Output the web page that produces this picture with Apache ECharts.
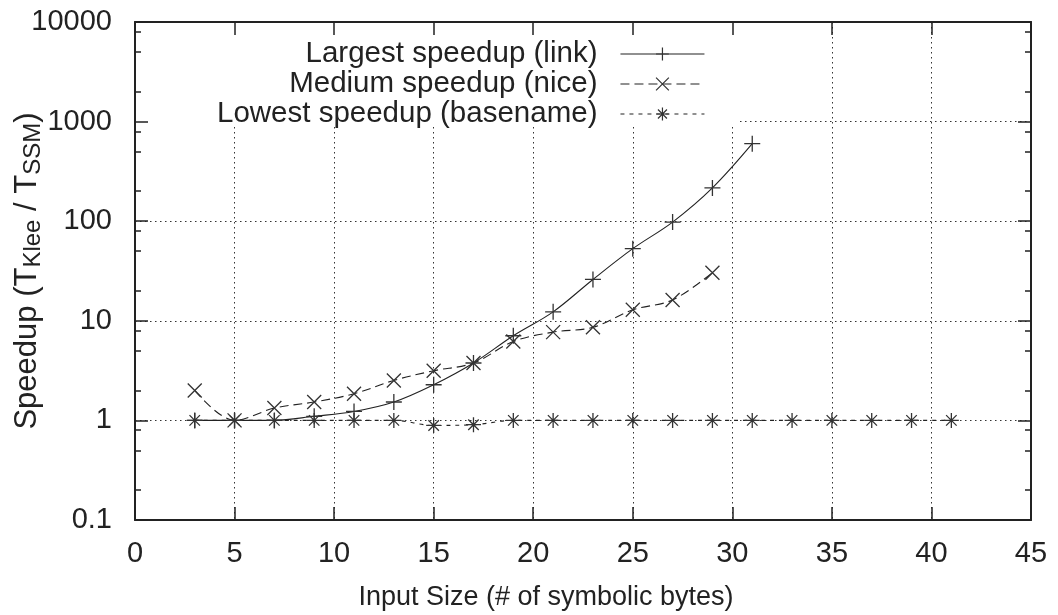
<!DOCTYPE html>
<html>
<head>
<meta charset="utf-8">
<script src="https://cdn.jsdelivr.net/npm/echarts@6/dist/echarts.min.js"></script>
<style>
html,body{margin:0;padding:0;background:#fff;}
#chart{width:1058px;height:615px;}
</style>
</head>
<body>
<div id="chart"></div>
<script>
// ---- data ----
const xLink = [3,5,7,9,11,13,15,17,19,21,23,25,27,29,31];
const yLink = [1,1,1,1.1,1.23,1.53,2.28,3.77,7.08,12.3,26,53,98,216,600];

const xNice = [3,5,7,9,11,13,15,17,19,21,23,25,27,29];
const yNice = [2.0,1,1.33,1.53,1.85,2.52,3.15,3.77,6.2,7.7,8.6,12.9,16.2,30.4];

const xBase = [3,5,7,9,11,13,15,17,19,21,23,25,27,29,31,33,35,37,39,41];
const yBase = [1,1,1,1,1,1,0.89,0.905,1,1,1,1,1,1,1,1,1,1,1,1];

const seriesNames = ['Largest speedup (link)','Medium speedup (nice)','Lowest speedup (basename)'];
const xTickLabels = ['0','5','10','15','20','25','30','35','40','45'];
const yTickValues = [0.1,1,10,100,1000,10000];
const yTickLabels = ['0.1','1','10','100','1000','10000'];
const yMinorTicks = [0.2,0.5,0.8,2,5,8,20,50,80,200,500,800,2000,5000,8000];

const FONT = 'Liberation Sans';
const INK = '#222';

const symPlus = 'path://M0,5L10,5M5,0L5,10';
const symCross = 'path://M0,0L10,10M10,0L0,10';
const symStar = 'path://M0,5L10,5M5,0L5,10M1.5,1.5L8.5,8.5M8.5,1.5L1.5,8.5';

function pairs(xs, ys){ return xs.map((x,i)=>[x, ys[i]]); }
function yLabel(v){
  let best = 0, bd = Infinity;
  yTickValues.forEach((t,i)=>{ const d = Math.abs(Math.log10(v) - Math.log10(t)); if (d < bd){bd=d;best=i;} });
  return yTickLabels[best];
}

const chart = echarts.init(document.getElementById('chart'), null, {renderer:'canvas'});

const gridLine = {show:true, lineStyle:{color:'#333', width:1, type:[1.5,3.5]}};
const axisLineStyle = {show:true, onZero:false, lineStyle:{color:INK, width:2}};
const noLine = {show:false, onZero:false};

const option = {
  animation:false,
  backgroundColor:'#fff',
  grid:{left:135, right:27, top:22, bottom:95, containLabel:false, outerBoundsMode:'none'},
  legend:{
    data:seriesNames,
    orient:'vertical',
    align:'right',
    right:353, top:39,
    padding:0,
    itemGap:0,
    itemWidth:84,
    itemHeight:16,
    selectedMode:false,
    textStyle:{fontFamily:FONT, fontSize:29.5, color:INK, lineHeight:30, padding:[0,18,0,0]},
    itemStyle:{borderWidth:1.2},
    lineStyle:{width:1.1},
    z:6
  },
  graphic:[{
    type:'rect', z:1,
    shape:{x:136, y:23, width:602, height:104},
    style:{fill:'#fff'}
  }],
  xAxis:[
    {type:'value', min:0, max:45, interval:5, position:'bottom', z:5,
     axisLine:axisLineStyle,
     axisTick:{show:true, inside:true, length:13, lineStyle:{color:INK, width:1.5}},
     axisLabel:{show:true, margin:18, fontFamily:FONT, fontSize:29, color:INK, lineHeight:32,
       formatter:(v)=>xTickLabels[Math.round(v/5)]},
     splitLine:{show:false},
     name:'Input Size (# of symbolic bytes)', nameLocation:'middle', nameGap:62, nameMoveOverlap:false,
     nameTextStyle:{fontFamily:FONT, fontSize:27, color:INK, lineHeight:32, padding:[0,74,0,0]}
    },
    {type:'value', min:0, max:45, interval:5, position:'top', z:5,
     axisLine:axisLineStyle,
     axisTick:{show:true, inside:true, length:13, lineStyle:{color:INK, width:1.5}},
     axisLabel:{show:false}, splitLine:{show:false}
    },
    {type:'value', min:0, max:45, interval:5, position:'bottom', z:0,
     axisLine:noLine, axisTick:{show:false}, axisLabel:{show:false},
     splitLine:gridLine
    }
  ],
  yAxis:[
    {type:'log', logBase:10, min:0.1, max:10000, position:'left', z:5,
     axisLine:axisLineStyle,
     axisTick:{show:true, inside:true, length:13, lineStyle:{color:INK, width:1.5}},
     axisLabel:{show:true, margin:23, fontFamily:FONT, fontSize:29, color:INK, formatter:yLabel},
     splitLine:{show:false},
     name:'Speedup (T{sub|Klee} / T{sub|SSM})', nameLocation:'middle', nameRotate:90, nameGap:90,
     nameMoveOverlap:false,
     nameTextStyle:{fontFamily:FONT, fontSize:31, color:INK, lineHeight:36,
       rich:{sub:{fontFamily:FONT, fontSize:24, color:INK, lineHeight:24, verticalAlign:'bottom'}}}
    },
    {type:'value', min:-1, max:4, position:'left', z:5, offset:0,
     axisLine:noLine,
     axisTick:{show:true, inside:true, length:6, lineStyle:{color:INK, width:1.5},
       customValues:yMinorTicks.map(v=>Math.log10(v))},
     axisLabel:{show:false}, splitLine:{show:false}
    },
    {type:'log', logBase:10, min:0.1, max:10000, position:'right', z:5, offset:0,
     axisLine:axisLineStyle,
     axisTick:{show:true, inside:true, length:13, lineStyle:{color:INK, width:1.5}},
     axisLabel:{show:false}, splitLine:{show:false}
    },
    {type:'value', min:-1, max:4, position:'right', z:5, offset:0,
     axisLine:noLine,
     axisTick:{show:true, inside:true, length:6, lineStyle:{color:INK, width:1.5},
       customValues:yMinorTicks.map(v=>Math.log10(v))},
     axisLabel:{show:false}, splitLine:{show:false}
    },
    {type:'log', logBase:10, min:0.1, max:10000, position:'left', z:0, offset:0,
     axisLine:noLine, axisTick:{show:false}, axisLabel:{show:false},
     splitLine:gridLine
    }
  ],
  series:[
    {name:seriesNames[0], type:'line', xAxisIndex:0, yAxisIndex:0, data:pairs(xLink,yLink),
     smooth:0.35, symbol:symPlus, symbolSize:16, color:'#333',
     lineStyle:{color:'#222', width:1.1, type:'solid'},
     itemStyle:{color:'#333', borderColor:'#333', borderWidth:1.3}, z:3},
    {name:seriesNames[1], type:'line', xAxisIndex:0, yAxisIndex:0, data:pairs(xNice,yNice),
     smooth:0.35, symbol:symCross, symbolSize:14, color:'#333',
     lineStyle:{color:'#222', width:1.1, type:[9,5]},
     itemStyle:{color:'#333', borderColor:'#333', borderWidth:1.3}, z:3},
    {name:seriesNames[2], type:'line', xAxisIndex:0, yAxisIndex:0, data:pairs(xBase,yBase),
     smooth:0.35, symbol:symStar, symbolSize:15, color:'#333',
     lineStyle:{color:'#222', width:1.1, type:[4,5]},
     itemStyle:{color:'#333', borderColor:'#333', borderWidth:1.3}, z:3}
  ]
};
chart.setOption(option);
</script>
</body>
</html>
